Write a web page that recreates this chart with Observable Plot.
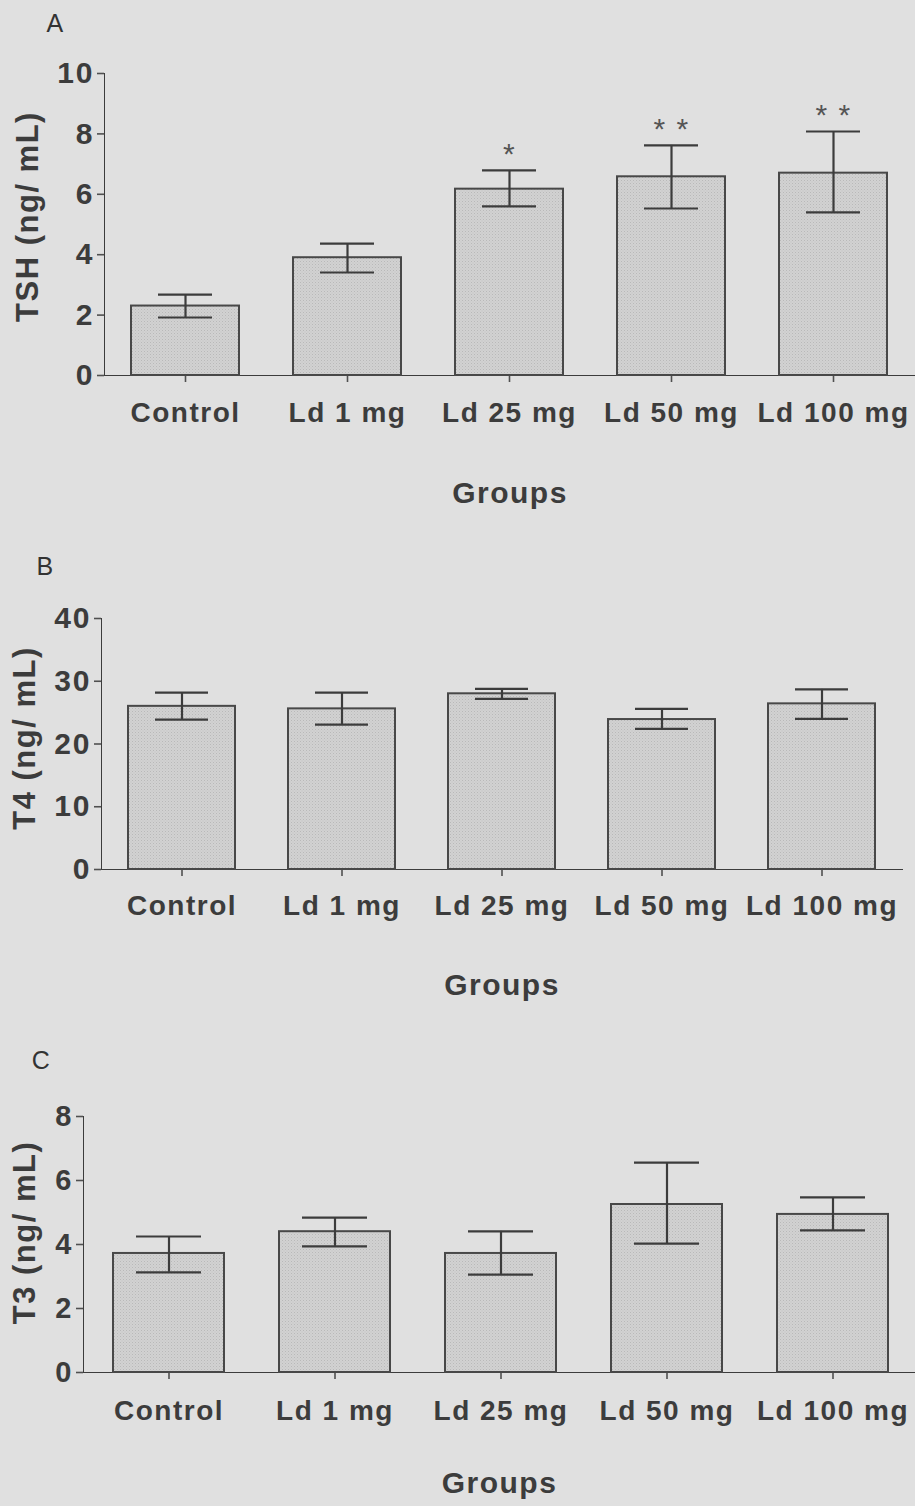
<!DOCTYPE html>
<html><head><meta charset="utf-8">
<script src="https://cdn.jsdelivr.net/npm/d3@7"></script>
<script src="https://cdn.jsdelivr.net/npm/@observablehq/plot@0.6"></script>
<style>
html,body{margin:0;padding:0;background:#e0e0e0;}
#wrap{width:915px;height:1506px;position:relative;overflow:hidden;background:#e0e0e0;}
.panel{position:absolute;left:0;}
.panel svg path.domain, .panel svg [aria-label$="axis line"] line, .panel svg [aria-label$="axis line"] path {stroke-width:2px; stroke:#505050;}
.panel svg [aria-label$="axis tick"] path, .panel svg [aria-label$="axis tick"] line, .panel svg g.tick line {stroke-width:1.6px; stroke:#505050;}
</style></head><body>
<svg width="0" height="0" style="position:absolute">
  <defs>
    <pattern id="dots" width="3" height="3" patternUnits="userSpaceOnUse">
      <rect width="3" height="3" fill="#d2d2d2"></rect>
      <rect x="0" y="0" width="1" height="1" fill="#b9b9b9"></rect>
      <rect x="1.5" y="1.5" width="1" height="1" fill="#c2c2c2"></rect>
    </pattern>
  </defs>
</svg>
<div id="wrap"></div>
<script>
const groups = ["Control", "Ld 1 mg", "Ld 25 mg", "Ld 50 mg", "Ld 100 mg"];

const tshMean = [2.30, 3.90, 6.17, 6.58, 6.70];
const tshLow  = [1.92, 3.41, 5.60, 5.53, 5.40];
const tshHigh = [2.68, 4.37, 6.79, 7.62, 8.08];
const tshSig  = ["", "", "*", "* *", "* *"];
const tshTicks = [0, 2, 4, 6, 8, 10];

const t4Mean = [26.0, 25.6, 28.0, 23.9, 26.4];
const t4Low  = [23.9, 23.1, 27.2, 22.4, 24.0];
const t4High = [28.2, 28.2, 28.8, 25.6, 28.7];
const t4Sig  = ["", "", "", "", ""];
const t4Ticks = [0, 10, 20, 30, 40];

const t3Mean = [3.72, 4.40, 3.72, 5.25, 4.94];
const t3Low  = [3.13, 3.94, 3.06, 4.03, 4.44];
const t3High = [4.25, 4.84, 4.41, 6.56, 5.47];
const t3Sig  = ["", "", "", "", ""];
const t3Ticks = [0, 2, 4, 6, 8];

const ink = "#3c3c3c";

function panel(o) {
  const data = groups.map((g, i) => ({g, mean: o.mean[i], low: o.low[i], high: o.high[i], sig: o.sig[i]}));
  const plot = Plot.plot({
    width: 915,
    height: o.height,
    marginTop: o.marginTop,
    marginBottom: o.marginBottom,
    marginLeft: o.xRange[0],
    marginRight: Math.max(0, 915 - o.xRange[1]),
    style: {
      fontFamily: "'Liberation Sans', Arial, sans-serif",
      fontSize: "28px",
      fontWeight: "bold",
      color: ink,
      background: "transparent",
      letterSpacing: "1.5px",
      overflow: "visible"
    },
    x: {domain: groups, range: o.xRange, paddingInner: 0.333, paddingOuter: 0.1667, align: 0.5,
        label: null, line: true, tickSize: 7, tickPadding: o.xPad},
    y: {domain: [o.yTicks[0], o.yTicks[o.yTicks.length - 1]], ticks: o.yTicks, label: null,
        line: true, tickSize: 7, tickPadding: 3},
    marks: [
      Plot.barY(data, {x: "g", y: "mean", fill: "url(#dots)", stroke: "#484848", strokeWidth: 2}),
      Plot.ruleX(data, {x: "g", y1: "low", y2: "high", stroke: ink, strokeWidth: 2.2}),
      Plot.tickY(data, {x: "g", y: "high", stroke: ink, strokeWidth: 2.2, insetLeft: o.capInset, insetRight: o.capInset}),
      Plot.tickY(data, {x: "g", y: "low", stroke: ink, strokeWidth: 2.2, insetLeft: o.capInset, insetRight: o.capInset}),
      Plot.text(data.filter(d => d.sig), {x: "g", y: "high", text: "sig", dy: -16, fontSize: 30, fontWeight: "normal", fill: "#555", letterSpacing: "0px"}),
      Plot.text([o.letter], {text: d => d, frameAnchor: "top-left", dx: o.letterPos[0], dy: o.letterPos[1], fontSize: 25, fontWeight: "normal", fill: "#333", textAnchor: "middle", letterSpacing: "0px"}),
      Plot.text([o.ylabel], {text: d => d, frameAnchor: "left", rotate: -90, dx: o.ylabelDx, dy: o.ylabelDy, fontSize: 31, fill: ink, textAnchor: "middle", letterSpacing: "2.5px"}),
      Plot.text(["Groups"], {text: d => d, frameAnchor: "bottom", dy: o.groupsDy, fontSize: 30, fill: ink, textAnchor: "middle", letterSpacing: "3px"})
    ]
  });
  d3.select(plot).selectAll("[aria-label='y-axis'] text, [aria-label='y-axis tick label'] text")
    .attr("font-size", o.yFont).style("letter-spacing", "2px");
  const div = document.createElement("div");
  div.className = "panel";
  div.style.top = o.top + "px";
  div.appendChild(plot);
  document.getElementById("wrap").appendChild(div);
}

panel({letter: "A", ylabel: "TSH (ng/ mL)", mean: tshMean, low: tshLow, high: tshHigh, sig: tshSig, yTicks: tshTicks,
  top: 0, height: 540, marginTop: 73, marginBottom: 165, xRange: [104, 915], capInset: 27, yFont: 30, xPad: 20,
  letterPos: [-49, -59], ylabelDx: -76, ylabelDy: -8, groupsDy: 127});

panel({letter: "B", ylabel: "T4 (ng/ mL)", mean: t4Mean, low: t4Low, high: t4High, sig: t4Sig, yTicks: t4Ticks,
  top: 540, height: 490, marginTop: 78, marginBottom: 161, xRange: [101, 902], capInset: 27, yFont: 30, xPad: 19,
  letterPos: [-56, -61], ylabelDx: -76, ylabelDy: -6, groupsDy: 125});

panel({letter: "C", ylabel: "T3 (ng/ mL)", mean: t3Mean, low: t3Low, high: t3High, sig: t3Sig, yTicks: t3Ticks,
  top: 1030, height: 476, marginTop: 86, marginBottom: 134, xRange: [83, 918], capInset: 23, yFont: 29, xPad: 21,
  letterPos: [-42, -65], ylabelDx: -58, ylabelDy: -12, groupsDy: 120});
</script>
</body></html>
